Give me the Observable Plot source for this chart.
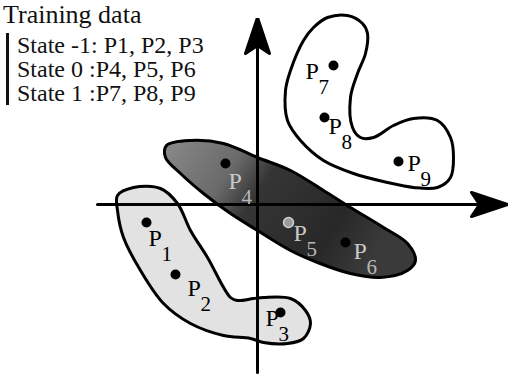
<!DOCTYPE html>
<html><head><meta charset="utf-8">
<script src="https://cdn.jsdelivr.net/npm/d3@7"></script>
<script src="https://cdn.jsdelivr.net/npm/@observablehq/plot@0.6"></script>
<style>
html,body{margin:0;padding:0;background:#fff;}
#chart{position:relative;width:509px;height:376px;overflow:hidden;}
#legend{position:absolute;left:3px;top:1px;font-family:"Liberation Serif","DejaVu Serif",serif;color:#111;}
#legend .title{font-size:26px;line-height:28px;white-space:nowrap;}
#legend .states{margin-left:3px;border-left:3px solid #111;padding-left:8px;font-size:24px;line-height:24px;margin-top:4px;white-space:nowrap;}
</style>
</head><body><div id="chart"></div>
<script>
// ---- data (chart coordinates: origin at axes crossing) ----
const legendTitle = "Training data";
const legendLines = ["State -1: P1, P2, P3", "State 0 :P4, P5, P6", "State 1 :P7, P8, P9"];

const pointNames = ["1","2","3","4","5","6","7","8","9"];
const pointState = [-1,-1,-1,0,0,0,1,1,1];
const pointX = [-111,-82,23,-32,31,88,76,67,141];
const pointY = [-18,-70,-108,41,-18,-38,139,87,43];
const labelX = [-109,-70,8,-29,36,96,48,71,150];
const labelY = [-41,-91,-121,16,-36,-54,126,71,34];

const stateNeg1Outline = [[-140,9],[-124,17],[-97,16],[-80,1],[-67,-26],[-50,-53],[-27,-93],[-20,-96],[-4,-94],[6,-93],[33,-94],[48,-106],[53,-119],[46,-134],[30,-139],[6,-138],[-7,-134],[-34,-131],[-67,-119],[-94,-99],[-117,-66],[-134,-33],[-140,-6]];
const state0Outline = [[-91,59],[-67,64],[-34,61],[0,47],[33,34],[66,14],[93,-3],[126,-23],[150,-39],[158,-56],[150,-66],[123,-73],[93,-69],[60,-58],[33,-46],[0,-26],[-27,-9],[-54,11],[-77,31],[-92,47]];
const state1Outline = [[70,187],[90,189],[105,181],[110,171],[108,151],[100,131],[93,107],[95,77],[103,67],[116,67],[136,79],[156,86],[180,84],[193,67],[196,47],[193,27],[180,17],[156,17],[130,22],[96,31],[66,44],[43,64],[30,84],[28,114],[33,134],[46,164],[56,177]];

const xAxisEnds = [-160, 240];
const yAxisEnds = [-168, 177];

// ---- build ----
const points = pointNames.map((n,i)=>({name:n, state:pointState[i], x:pointX[i], y:pointY[i], lx:labelX[i], ly:labelY[i]}));
const toRows = o => o.map(([x,y])=>({x,y}));

function arrowHead() {
  const ns = "http://www.w3.org/2000/svg";
  const m = document.createElementNS(ns, "marker");
  m.setAttribute("viewBox", "-30 -14 40 28");
  m.setAttribute("markerWidth", 40);
  m.setAttribute("markerHeight", 28);
  m.setAttribute("markerUnits", "userSpaceOnUse");
  m.setAttribute("orient", "auto");
  m.setAttribute("refX", 0); m.setAttribute("refY", 0);
  const p = document.createElementNS(ns, "path");
  p.setAttribute("d", "M10,0L-26,-12L-18,0L-26,12Z");
  p.setAttribute("fill", "#000");
  m.appendChild(p);
  return m;
}

function defs() {
  const ns = "http://www.w3.org/2000/svg";
  const d = document.createElementNS(ns, "defs");
  d.innerHTML = `
    <linearGradient id="g0" x1="0" y1="0" x2="1" y2="0.35">
      <stop offset="0" stop-color="#8a8a8a"/>
      <stop offset="0.3" stop-color="#6a6a6a"/>
      <stop offset="0.45" stop-color="#353535"/>
      <stop offset="0.8" stop-color="#282828"/>
      <stop offset="1" stop-color="#3a3a3a"/>
    </linearGradient>`;
  return d;
}

const subFont = "Liberation Serif";
const chart = Plot.plot({
  width: 509, height: 376,
  margin: 0,
  x: {domain: [-257, 252], axis: null},
  y: {domain: [-172, 204], axis: null},
  style: {background: "#fff"},
  marks: [
    defs,
    Plot.line(toRows(stateNeg1Outline), {x:"x", y:"y", curve:"catmull-rom-closed", fill:"#e2e2e2", stroke:"#000", strokeWidth:3}),
    Plot.line(toRows(state0Outline), {x:"x", y:"y", curve:"catmull-rom-closed", fill:"url(#g0)", stroke:"#000", strokeWidth:3}),
    Plot.line(toRows(state1Outline), {x:"x", y:"y", curve:"catmull-rom-closed", fill:"#fff", stroke:"#000", strokeWidth:3}),
    Plot.line(xAxisEnds.map(x=>({x, y:0})), {x:"x", y:"y", stroke:"#000", strokeWidth:3, markerEnd: arrowHead}),
    Plot.line(yAxisEnds.map(y=>({x:0, y})), {x:"x", y:"y", stroke:"#000", strokeWidth:3, markerEnd: arrowHead}),
    Plot.dot(points.filter(d=>d.name!=="5"), {x:"x", y:"y", r:5, fill:"#000", stroke:"none"}),
    Plot.dot(points.filter(d=>d.name==="5"), {x:"x", y:"y", r:5, fill:"#9a9a9a", stroke:"#d0d0d0", strokeWidth:1.5}),
    Plot.text(points, {x:"lx", y:"ly", text:()=>"P", textAnchor:"start", lineAnchor:"bottom", fontFamily:subFont, fontSize:24, fill:d=>d.state===0?"#c8c8c8":"#000"}),
    Plot.text(points, {x:"lx", y:"ly", text:"name", textAnchor:"start", lineAnchor:"bottom", dx:13, dy:15, fontFamily:subFont, fontSize:21, fill:d=>d.state===0?"#b8b8b8":"#000"})
  ]
});
const host = document.getElementById("chart");
host.appendChild(chart);
const lg = document.createElement("div");
lg.id = "legend";
lg.innerHTML = `<div class="title">${legendTitle}</div><div class="states">${legendLines.map(s=>`<div>${s}</div>`).join("")}</div>`;
host.appendChild(lg);
</script>
</body></html>
